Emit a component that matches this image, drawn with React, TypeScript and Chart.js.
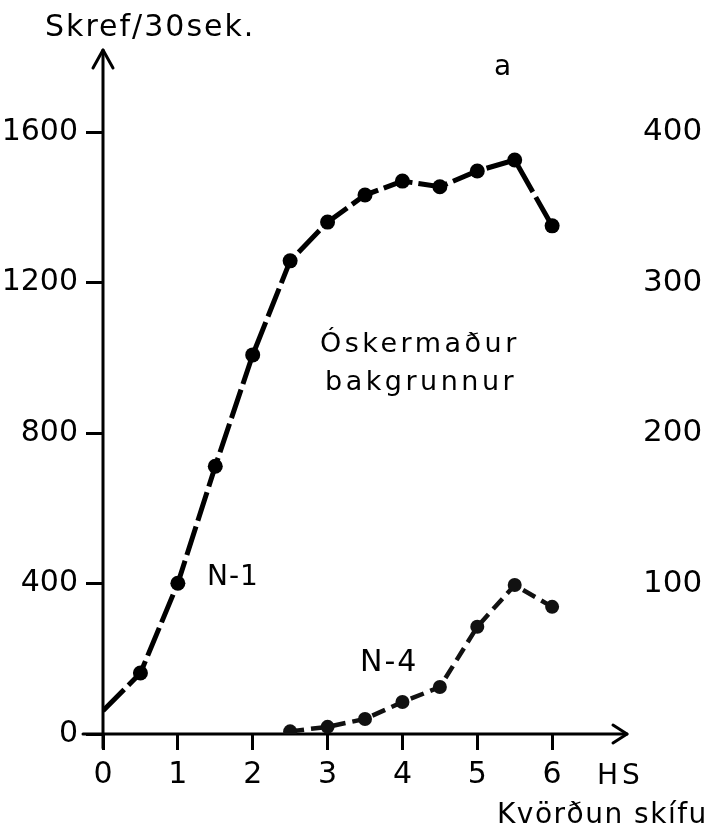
import React, { useEffect, useRef } from "react";
import { Chart, registerables } from "chart.js";
Chart.register(...registerables);

// ---- data ----
const n1X = [0, 0.5, 1, 1.5, 2, 2.5, 3, 3.5, 4, 4.5, 5, 5.5, 6];
const n1Values = [62, 162, 401, 712, 1008, 1258, 1361, 1433, 1470, 1455, 1497, 1526, 1351];
const n4X = [2.5, 3, 3.5, 4, 4.5, 5, 5.5, 6];
const n4Values = [7, 19, 40, 85, 125, 285, 396, 338];
const xTickValues = [0, 1, 2, 3, 4, 5, 6];
const yTickValues = [0, 400, 800, 1200, 1600];
const rightTickValues = [100, 200, 300, 400];

const FONT = "'DejaVu Sans', 'Liberation Sans', sans-serif";

const axesPlugin = {
  id: "axesArrows",
  beforeDatasetsDraw(chart: any) {
    const { ctx, chartArea, scales } = chart;
    const x0 = scales.x.getPixelForValue(0);
    const y0 = scales.y.getPixelForValue(0);
    ctx.save();
    ctx.strokeStyle = "#000";
    ctx.lineWidth = 3;
    ctx.lineCap = "round";
    ctx.lineJoin = "round";
    // y axis
    const yTip = chartArea.top - 7;
    ctx.beginPath();
    ctx.moveTo(x0, y0 + 14);
    ctx.lineTo(x0, yTip);
    ctx.stroke();
    ctx.beginPath();
    ctx.moveTo(x0 - 10, yTip + 18);
    ctx.lineTo(x0, yTip);
    ctx.lineTo(x0 + 10, yTip + 18);
    ctx.stroke();
    // x axis
    const xTip = chartArea.right;
    ctx.beginPath();
    ctx.moveTo(x0 - 20, y0);
    ctx.lineTo(xTip, y0);
    ctx.stroke();
    ctx.beginPath();
    ctx.moveTo(xTip - 14, y0 - 9);
    ctx.lineTo(xTip, y0);
    ctx.lineTo(xTip - 14, y0 + 9);
    ctx.stroke();
    ctx.restore();
  },
  afterDraw(chart: any) {
    const { ctx } = chart;
    ctx.save();
    ctx.fillStyle = "#000";
    ctx.textBaseline = "middle";
    ctx.textAlign = "left";
    const txt = (s: string, x: number, y: number, size: number, spacing: string) => {
      ctx.font = `${size}px ${FONT}`;
      (ctx as any).letterSpacing = spacing;
      ctx.fillText(s, x, y);
    };
    txt("Skref/30sek.", 45, 28, 30, "2px");
    txt("a", 494, 68, 28, "0px");
    txt("Óskermaður", 320, 345, 27, "3.5px");
    txt("bakgrunnur", 325, 383, 27, "3.5px");
    txt("N-1", 207, 578, 28, "1px");
    txt("N-4", 360, 663, 30, "2px");
    txt("HS", 597, 777, 28, "4px");
    txt("Kvörðun skífu", 497, 816, 28, "1.5px");
    ctx.restore();
  },
};

const plain = (v: any) => String(v);

export default function App() {
  const ref = useRef<HTMLCanvasElement>(null);
  useEffect(() => {
    document.body.style.margin = "0";
    const canvas = ref.current!;
    const chart = new Chart(canvas, {
      type: "line",
      data: {
        datasets: [
          {
            label: "N-1",
            data: n1X.map((x, i) => ({ x, y: n1Values[i] })),
            borderColor: "#000",
            backgroundColor: "#000",
            borderWidth: 5,
            borderDash: [30, 6],
            pointRadius: (c: any) => (c.dataIndex === 0 ? 0 : 7.5),
            pointBorderWidth: 0,
            tension: 0,
            yAxisID: "y",
          },
          {
            label: "N-4",
            data: n4X.map((x, i) => ({ x, y: n4Values[i] })),
            borderColor: "#111",
            backgroundColor: "#111",
            borderWidth: 4.5,
            borderDash: [14, 7],
            pointRadius: 7,
            pointBorderWidth: 0,
            tension: 0,
            yAxisID: "y",
          },
        ],
      },
      options: {
        animation: false,
        responsive: false,
        devicePixelRatio: 1,
        layout: { padding: { top: 57, left: 0, right: 0, bottom: 0 } },
        plugins: { legend: { display: false }, tooltip: { enabled: false } },
        scales: {
          x: {
            type: "linear",
            min: 0,
            max: 7,
            afterBuildTicks: (s: any) => {
              s.ticks = xTickValues.map((v) => ({ value: v }));
            },
            afterFit: (s: any) => {
              s.height = 99;
            },
            border: { display: false },
            grid: { drawOnChartArea: false, drawTicks: true, tickLength: 16, lineWidth: 3, color: "#000" },
            ticks: { color: "#000", padding: 7, font: { family: FONT, size: 30 }, maxRotation: 0, callback: plain },
          },
          y: {
            type: "linear",
            position: "left",
            min: 0,
            max: 1800,
            afterBuildTicks: (s: any) => {
              s.ticks = yTickValues.map((v) => ({ value: v }));
            },
            afterFit: (s: any) => {
              s.width = 103;
            },
            border: { display: false },
            grid: { drawOnChartArea: false, drawTicks: true, tickLength: 17, lineWidth: 3, color: "#000" },
            ticks: { color: "#000", padding: 8, font: { family: FONT, size: 30 }, callback: plain },
          },
          y2: {
            type: "linear",
            position: "right",
            min: 0,
            max: 450,
            afterBuildTicks: (s: any) => {
              s.ticks = rightTickValues.map((v) => ({ value: v }));
            },
            afterFit: (s: any) => {
              s.width = 82;
            },
            border: { display: false },
            grid: { display: false, drawTicks: false },
            ticks: { color: "#000", padding: 16, font: { family: FONT, size: 31 }, callback: plain },
          },
        },
      },
      plugins: [axesPlugin],
    } as any);
    return () => chart.destroy();
  }, []);
  return <canvas ref={ref} width={709} height={833} style={{ display: "block", width: 709, height: 833 }} />;
}
